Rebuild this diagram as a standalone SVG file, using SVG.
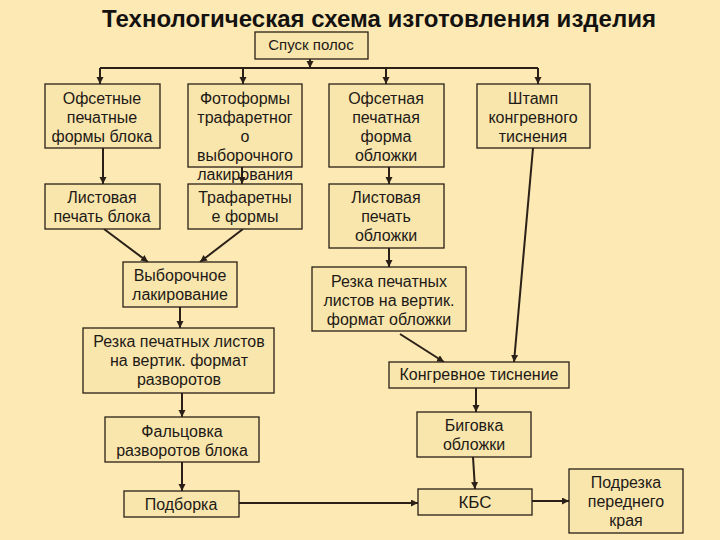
<svg xmlns="http://www.w3.org/2000/svg" width="720" height="540" viewBox="0 0 720 540">
<defs>
<style>
.box{fill:#F9E6AD;stroke:#2a2018;stroke-width:1.3}
.t{font-family:"Liberation Sans",Arial,sans-serif;font-size:16px;fill:#1e1a16;text-anchor:middle}
.title{font-family:"Liberation Sans",Arial,sans-serif;font-size:24px;font-weight:bold;fill:#141210;text-anchor:middle}
.c{fill:none;stroke:#2a2018;stroke-width:2}
</style>
<marker id="ah" markerUnits="userSpaceOnUse" markerWidth="8" markerHeight="8" refX="7" refY="3.5" orient="auto">
<path d="M0,0 L7,3.5 L0,7 z" fill="#2a2018"/>
</marker>
</defs>
<rect width="720" height="540" fill="#FCE9B3"/>
<text class="title" x="379" y="27">Технологическая схема изготовления изделия</text>

<g id="connectors">
<path class="c" d="M310,59 V68" marker-end="url(#ah)"/>
<path class="c" d="M100,68 H538"/>
<path class="c" d="M100,68 V84" marker-end="url(#ah)"/>
<path class="c" d="M243,68 V84" marker-end="url(#ah)"/>
<path class="c" d="M386,68 V84" marker-end="url(#ah)"/>
<path class="c" d="M538,68 V84" marker-end="url(#ah)"/>
<path class="c" d="M103,148 V184" marker-end="url(#ah)"/>
<path class="c" d="M242,167 V184" marker-end="url(#ah)"/>
<path class="c" d="M389,167 V184" marker-end="url(#ah)"/>
<path class="c" d="M104,229 L148,262" marker-end="url(#ah)"/>
<path class="c" d="M243,229 L200,262" marker-end="url(#ah)"/>
<path class="c" d="M180,307 V328" marker-end="url(#ah)"/>
<path class="c" d="M389,248 V267" marker-end="url(#ah)"/>
<path class="c" d="M400,334 L444,362" marker-end="url(#ah)"/>
<path class="c" d="M533,148 L514,362" marker-end="url(#ah)"/>
<path class="c" d="M182,393 V417" marker-end="url(#ah)"/>
<path class="c" d="M182,462 V491" marker-end="url(#ah)"/>
<path class="c" d="M476,388 V412" marker-end="url(#ah)"/>
<path class="c" d="M473,457 L475,489" marker-end="url(#ah)"/>
<path class="c" d="M239,503 H418" stroke-width="2.5" marker-end="url(#ah)"/>
<path class="c" d="M532,501 H569" marker-end="url(#ah)"/>
</g>

<g id="n-spusk"><rect class="box" x="255" y="32" width="113" height="27"/><text class="t" x="311" y="50" style="font-size:15px">Спуск полос</text></g>

<g id="n-ofset-blok"><rect class="box" x="45" y="84" width="115" height="64"/>
<text class="t" x="102" y="104">Офсетные</text><text class="t" x="102" y="123">печатные</text><text class="t" x="102" y="142">формы блока</text></g>

<g id="n-fotoformy"><rect class="box" x="188" y="84" width="114" height="83"/>
<text class="t" x="245" y="104">Фотоформы</text><text class="t" x="245" y="123">трафаретног</text><text class="t" x="245" y="142">о</text><text class="t" x="245" y="161">выборочного</text><text class="t" x="245" y="180">лакирования</text></g>

<g id="n-ofset-obl"><rect class="box" x="329" y="84" width="115" height="83"/>
<text class="t" x="386" y="104">Офсетная</text><text class="t" x="386" y="123">печатная</text><text class="t" x="386" y="142">форма</text><text class="t" x="386" y="161">обложки</text></g>

<g id="n-shtamp"><rect class="box" x="477" y="84" width="113" height="64"/>
<text class="t" x="533" y="104">Штамп</text><text class="t" x="533" y="123">конгревного</text><text class="t" x="533" y="142">тиснения</text></g>

<g id="n-list-blok"><rect class="box" x="45" y="184" width="115" height="45"/>
<text class="t" x="102" y="203">Листовая</text><text class="t" x="102" y="222">печать блока</text></g>

<g id="n-trafaret"><rect class="box" x="188" y="184" width="114" height="45"/>
<text class="t" x="245" y="203">Трафаретны</text><text class="t" x="245" y="222">е формы</text></g>

<g id="n-list-obl"><rect class="box" x="329" y="184" width="115" height="64"/>
<text class="t" x="386" y="203">Листовая</text><text class="t" x="386" y="222">печать</text><text class="t" x="386" y="241">обложки</text></g>

<g id="n-vyb-lak"><rect class="box" x="123" y="262" width="114" height="45"/>
<text class="t" x="180" y="281">Выборочное</text><text class="t" x="180" y="300">лакирование</text></g>

<g id="n-rezka-obl"><rect class="box" x="312" y="267" width="154" height="64"/>
<text class="t" x="389" y="287">Резка печатных</text><text class="t" x="389" y="306">листов на вертик.</text><text class="t" x="389" y="325">формат обложки</text></g>

<g id="n-rezka-razv"><rect class="box" x="83" y="328" width="191" height="65"/>
<text class="t" x="179" y="347">Резка печатных листов</text><text class="t" x="179" y="366">на вертик. формат</text><text class="t" x="179" y="385">разворотов</text></g>

<g id="n-kongrev"><rect class="box" x="389" y="362" width="180" height="26"/>
<text class="t" x="479" y="380">Конгревное тиснение</text></g>

<g id="n-falc"><rect class="box" x="105" y="417" width="154" height="45"/>
<text class="t" x="182" y="437">Фальцовка</text><text class="t" x="182" y="456">разворотов блока</text></g>

<g id="n-bigovka"><rect class="box" x="417" y="412" width="114" height="45"/>
<text class="t" x="474" y="431">Биговка</text><text class="t" x="474" y="450">обложки</text></g>

<g id="n-podborka"><rect class="box" x="124" y="491" width="115" height="26"/>
<text class="t" x="181" y="510">Подборка</text></g>

<g id="n-kbs"><rect class="box" x="418" y="489" width="114" height="26"/>
<text class="t" x="475" y="508" style="font-size:17px">КБС</text></g>

<g id="n-podrezka"><rect class="box" x="569" y="469" width="114" height="64"/>
<text class="t" x="626" y="488">Подрезка</text><text class="t" x="626" y="507">переднего</text><text class="t" x="626" y="526">края</text></g>
</svg>
